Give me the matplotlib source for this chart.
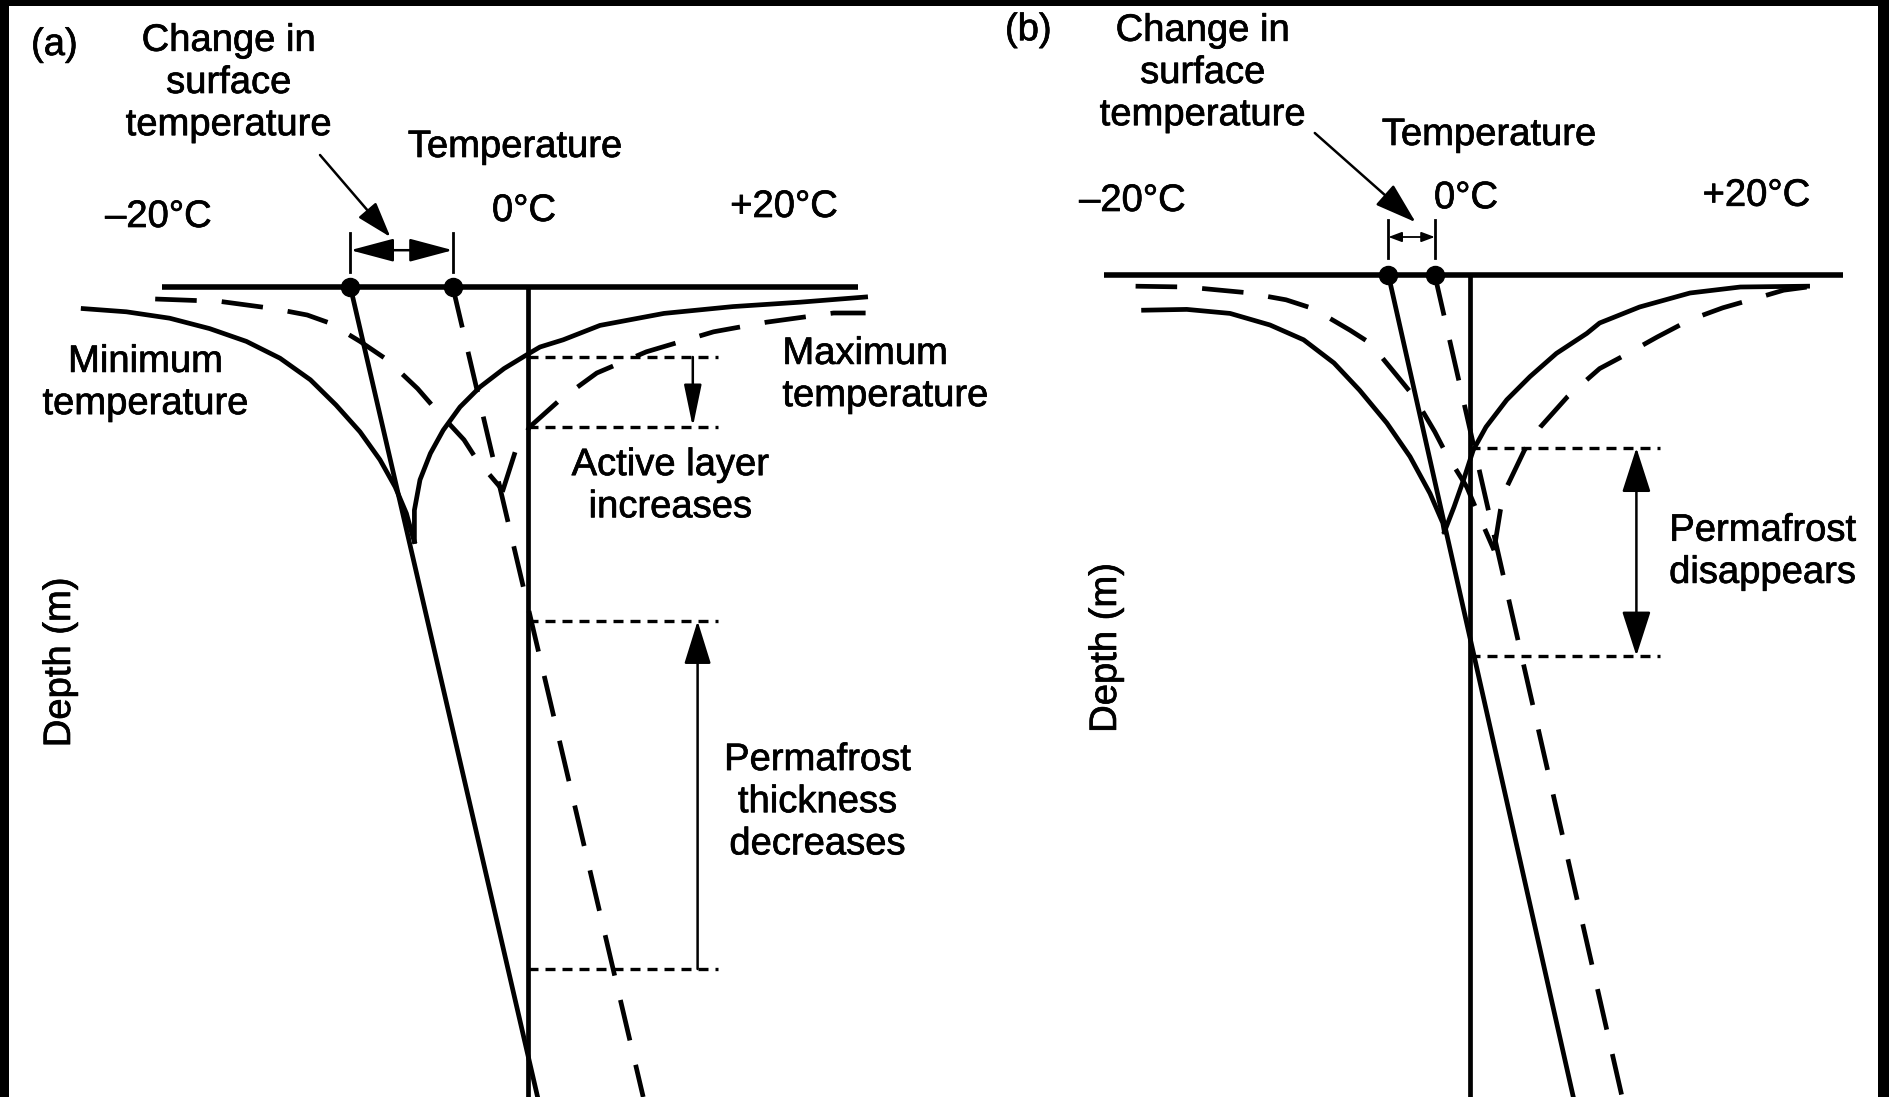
import matplotlib
matplotlib.use("Agg")
import matplotlib.pyplot as plt
from matplotlib.patches import Rectangle
import matplotlib.patheffects as pe

plt.rcParams['font.family'] = ['Liberation Sans', 'DejaVu Sans']

# T = temperature in degC (0 at the vertical 0 degC line), d = depth (arbitrary m, 0 = ground surface)

# ---------------- panel (a) ----------------
a_surface_T = [-22.9, 20.6]
a_dots_T = [-11.1, -4.7]

a_geo_old_T = [-11.1, 0.6]
a_geo_old_d = [0.0, 101.25]
a_geo_new_T = [-4.7, 7.2]
a_geo_new_d = [0.0, 101.25]

a_min_old_T = [-27.8, -25.1, -22.4, -19.9, -17.6, -15.5, -13.6, -12.0, -10.5, -9.25, -8.3, -7.6, -7.2, -7.1]
a_min_old_d = [2.7, 3.1, 3.9, 5.2, 6.8, 8.9, 11.6, 14.75, 18.1, 21.6, 25.0, 28.3, 31.2, 31.8]
a_max_old_T = [-7.1, -7.1, -6.75, -6.1, -5.3, -4.25, -3.0, -1.5, -0.1, 0.75, 2.2, 4.5, 8.5, 12.8, 17.0, 21.1]
a_max_old_d = [31.8, 27.9, 24.1, 20.8, 17.9, 15.0, 12.5, 10.2, 8.5, 7.5, 6.6, 4.8, 3.3, 2.45, 1.9, 1.25]

a_min_new_T = [-23.3, -19.25, -15.9, -13.8, -12.4, -10.5, -8.8, -6.9, -5.9, -4.0, -3.2, -1.75, -1.6]
a_min_new_d = [1.5, 1.8, 2.7, 3.5, 4.5, 6.8, 9.1, 12.7, 15.0, 19.1, 21.6, 25.0, 25.6]
a_max_new_T = [-1.6, -0.8, 0.1, 2.0, 4.3, 7.4, 11.6, 14.9, 19.1, 21.1]
a_max_new_d = [25.6, 20.6, 17.5, 14.1, 10.75, 8.1, 5.6, 4.4, 3.25, 3.25]

a_active_d = [8.75, 17.5]          # active layer base: before / after
a_pf_d = [41.75, 85.25]            # permafrost levels
a_guide_T = [0.0, 11.9]

# ---------------- panel (b) ----------------
b_surface_T = [-22.9, 23.3]
b_dots_T = [-5.1, -2.2]

b_geo_old_T = [-5.1, 6.45]
b_geo_old_d = [0.0, 102.7]
b_geo_new_T = [-2.2, 9.5]
b_geo_new_d = [0.0, 102.7]

b_min_old_T = [-20.4, -17.7, -15.0, -12.5, -10.4, -8.5, -6.9, -5.2, -3.75, -2.5, -1.7, -1.6]
b_min_old_d = [4.4, 4.3, 4.8, 6.25, 8.1, 11.0, 14.4, 18.5, 22.7, 27.3, 31.0, 32.1]
b_max_old_T = [-1.6, -1.0, -0.4, 0.2, 1.0, 2.3, 3.75, 5.4, 7.3, 8.1, 10.6, 13.75, 16.9, 21.1]
b_max_old_d = [32.1, 29.0, 25.6, 21.9, 19.0, 15.6, 12.7, 9.8, 7.3, 6.0, 4.0, 2.25, 1.5, 1.4]

b_min_new_T = [-20.9, -17.7, -15.6, -14.0, -11.5, -9.8, -7.5, -6.25, -4.6, -3.5, -2.2, -1.5, -0.2, 0.5, 1.5]
b_min_new_d = [1.4, 1.5, 1.9, 2.2, 3.1, 4.2, 6.9, 8.5, 12.5, 15.2, 19.6, 22.3, 26.5, 29.8, 34.4]
b_max_new_T = [1.5, 1.9, 2.3, 3.4, 4.4, 6.1, 8.1, 9.6, 11.7, 13.75, 15.8, 17.9, 19.6, 21.1]
b_max_new_d = [34.4, 29.4, 26.5, 21.9, 19.0, 15.2, 11.7, 10.1, 7.75, 5.6, 4.1, 2.9, 1.9, 1.5]

b_pf_d = [21.6, 47.6]
b_guide_T = [0.0, 11.9]

FS = 27.5
LW = 3.4
LONG_DASH = (0, (8.8, 5.3))
SHORT_DASH = (0, (3.0, 2.1))
INK = [pe.withStroke(linewidth=0.5, foreground='black')]


def arrow(ax, start, end, style, hl, hw, lw=1.8):
    ax.annotate('', xy=end, xytext=start,
                arrowprops=dict(arrowstyle='%s,head_length=%s,head_width=%s' % (style, hl, hw),
                                lw=lw, color='black', shrinkA=0, shrinkB=0,
                                mutation_scale=20))


def label(ax, x, y, s, **kw):
    kw.setdefault('ha', 'center')
    ax.text(x, y, s, fontsize=FS, va='center', linespacing=1.22,
            path_effects=INK, **kw)


def draw_profiles(ax, surface_T, dots_T, bottom,
                  geo_old, geo_new, min_old, max_old, min_new, max_new):
    ax.plot(surface_T, [0, 0], color='black', lw=4.0, solid_capstyle='butt')
    ax.plot([0, 0], [0, bottom], color='black', lw=LW)
    ax.plot(*geo_old, color='black', lw=LW)
    ax.plot(*geo_new, color='black', lw=LW, linestyle=LONG_DASH)
    ax.plot(*min_old, color='black', lw=LW, solid_joinstyle='round')
    ax.plot(*max_old, color='black', lw=LW, solid_joinstyle='round')
    ax.plot(*min_new, color='black', lw=LW, linestyle=LONG_DASH)
    ax.plot(*max_new, color='black', lw=LW, linestyle=LONG_DASH)
    ax.plot(dots_T, [0, 0], 'o', color='black', ms=13)


fig = plt.figure(figsize=(18.9, 10.97), dpi=100)

# ---------------- (a) ----------------
ax = fig.add_axes([0, 0, 0.5, 1])
ax.set_xlim(-33, 26.0625)
ax.set_ylim(101.25, -35.875)
ax.axis('off')

draw_profiles(ax, a_surface_T, a_dots_T, 101.25,
              (a_geo_old_T, a_geo_old_d), (a_geo_new_T, a_geo_new_d),
              (a_min_old_T, a_min_old_d), (a_max_old_T, a_max_old_d),
              (a_min_new_T, a_min_new_d), (a_max_new_T, a_max_new_d))

for d in a_active_d + a_pf_d:
    ax.plot(a_guide_T, [d, d], color='black', lw=2.4, linestyle=SHORT_DASH)

# bracket for change in surface temperature
for t in a_dots_T:
    ax.plot([t, t], [-6.75, -1.9], color='black', lw=2.0)
arrow(ax, (a_dots_T[0], -4.6), (a_dots_T[1], -4.6), '<|-|>', 1.35, 0.36)
arrow(ax, (-13.0, -16.5), (-8.6, -6.25), '-|>', 1.1, 0.36)
arrow(ax, (10.3, a_active_d[0]), (10.3, a_active_d[1]), '-|>', 1.3, 0.27)
arrow(ax, (10.6, a_pf_d[1]), (10.6, a_pf_d[0]), '-|>', 1.35, 0.42)

label(ax, -29.6, -30.25, '(a)')
label(ax, -18.7, -25.5, 'Change in\nsurface\ntemperature')
label(ax, -0.8, -17.5, 'Temperature')
label(ax, -23.1, -8.75, '\u201320\u00b0C')
label(ax, -0.25, -9.5, '0\u00b0C')
label(ax, 16.0, -10.0, '+20\u00b0C')
label(ax, -23.9, 12.0, 'Minimum\ntemperature')
label(ax, 15.9, 11.0, 'Maximum\ntemperature', ha='left', multialignment='left')
label(ax, 8.9, 24.9, 'Active layer\nincreases')
label(ax, 18.1, 64.4, 'Permafrost\nthickness\ndecreases')
label(ax, -29.25, 46.9, 'Depth (m)', rotation=90)

# ---------------- (b) ----------------
bx = fig.add_axes([0.5, 0, 0.5, 1])
bx.set_xlim(-32.8125, 26.25)
bx.set_ylim(102.75, -34.375)
bx.axis('off')

draw_profiles(bx, b_surface_T, b_dots_T, 102.75,
              (b_geo_old_T, b_geo_old_d), (b_geo_new_T, b_geo_new_d),
              (b_min_old_T, b_min_old_d), (b_max_old_T, b_max_old_d),
              (b_min_new_T, b_min_new_d), (b_max_new_T, b_max_new_d))

for d in b_pf_d:
    bx.plot(b_guide_T, [d, d], color='black', lw=2.4, linestyle=SHORT_DASH)

for t in b_dots_T:
    bx.plot([t, t], [-6.9, -2.1], color='black', lw=2.0)
arrow(bx, (b_dots_T[0], -4.75), (b_dots_T[1], -4.75), '<|-|>', 0.4, 0.15, lw=1.3)
arrow(bx, (-9.7, -17.75), (-3.4, -6.6), '-|>', 1.3, 0.42)
arrow(bx, (10.4, b_pf_d[0]), (10.4, b_pf_d[1]), '<|-|>', 1.4, 0.45)

label(bx, -27.6, -30.6, '(b)')
label(bx, -16.7, -25.25, 'Change in\nsurface\ntemperature')
label(bx, 1.2, -17.5, 'Temperature')
label(bx, -21.1, -9.25, '\u201320\u00b0C')
label(bx, -0.25, -9.6, '0\u00b0C')
label(bx, 17.9, -9.9, '+20\u00b0C')
label(bx, 18.3, 34.6, 'Permafrost\ndisappears')
label(bx, -22.75, 46.6, 'Depth (m)', rotation=90)

# dark scan border at the top, left and right edges
for rect in [(0, 1 - 6 / 1097, 1, 6 / 1097), (0, 0, 9 / 1890, 1),
             (1878 / 1890, 0, 12 / 1890, 1)]:
    fig.add_artist(Rectangle(rect[:2], rect[2], rect[3], transform=fig.transFigure,
                             facecolor='black', edgecolor='none'))

fig.savefig('out.png', dpi=100, facecolor='white')
